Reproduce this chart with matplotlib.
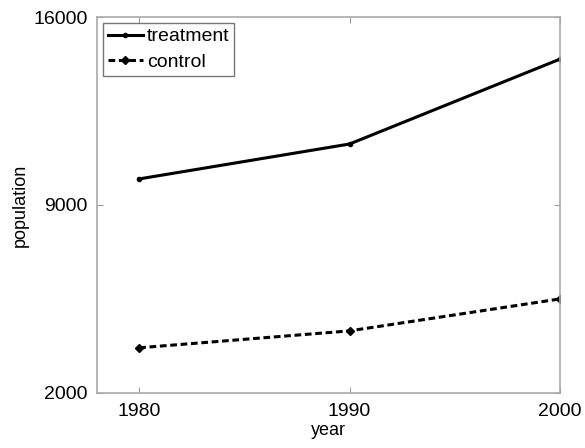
import matplotlib.pyplot as plt

plt.rcParams['font.family'] = ['Liberation Sans', 'DejaVu Sans']

years = [1980, 1990, 2000]
treatment = [9970, 11270, 14430]
control = [3680, 4310, 5500]

fig = plt.figure(figsize=(5.85, 4.48), dpi=100)
ax = fig.add_axes([0.166, 0.123, 0.791, 0.839])

ax.plot(years, treatment, '-', color='black', lw=2.2, marker='o', ms=3, label='treatment')
ax.plot(years, control, color='black', lw=2.2, ls=(0, (2.2, 1.2)), marker='D', ms=4.5,
        label='control')

ax.set_xlim(1978, 2000)
ax.set_ylim(2000, 16000)
ax.set_xticks(years)
ax.set_yticks([2000, 9000, 16000])
ax.tick_params(direction='in', top=True, right=True, labelsize=14, color='#999999', length=4)
ax.tick_params(axis='x', pad=7)
ax.tick_params(axis='y', pad=7)

for s in ax.spines.values():
    s.set_color('#aaaaaa')
    s.set_linewidth(1.2)

ax.set_xlabel('year', fontsize=13, labelpad=2)
ax.set_ylabel('population', fontsize=13, labelpad=3)

leg = ax.legend(loc='upper left', fontsize=14, fancybox=False, framealpha=1,
                edgecolor='#777777', handlelength=1.8, handletextpad=0.2,
                borderaxespad=0.3, borderpad=0.25, labelspacing=0.4)
leg.get_frame().set_linewidth(1.0)

fig.savefig('out.png', dpi=100)
